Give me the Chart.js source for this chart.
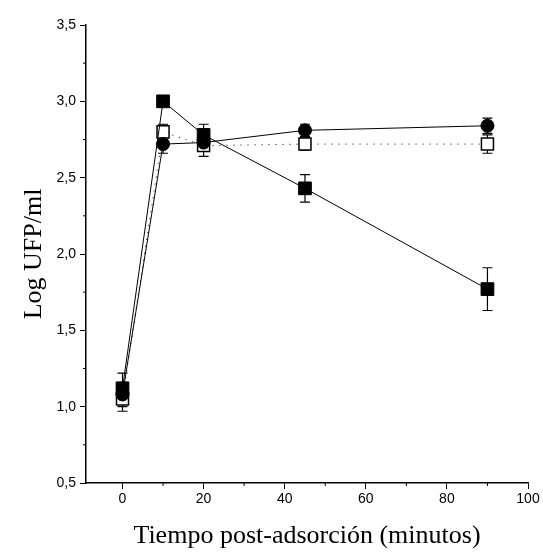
<!DOCTYPE html>
<html>
<head>
<meta charset="utf-8">
<script src="https://cdn.jsdelivr.net/npm/chart.js@4"></script>
<style>
  html, body { margin: 0; padding: 0; background: #fff; }
  #wrap { width: 543px; height: 552px; }
</style>
</head>
<body>
<div id="wrap"><canvas id="chart" width="543" height="552"></canvas></div>
<script>
// time after adsorption (minutes)
const tiempo = [0, 10, 20, 45, 90];

// filled squares, solid line
const cuadradoLleno = [1.12, 3.0, 2.78, 2.43, 1.77];
const errCuadradoLleno = [0.1, 0.03, 0.07, 0.09, 0.14];

// filled circles, solid line
const circulo = [1.08, 2.72, 2.73, 2.81, 2.84];
const errCirculo = [0.08, 0.06, 0.05, 0.04, 0.05];

// open squares, dotted line
const cuadradoAbierto = [1.05, 2.8, 2.71, 2.72, 2.72];
const errCuadradoAbierto = [0.08, 0.05, 0.07, 0.04, 0.06];

const xTicks = [0, 20, 40, 60, 80, 100];
const xMinor = [10, 30, 50, 70, 90];
const yTicks = [0.5, 1.0, 1.5, 2.0, 2.5, 3.0, 3.5];
const yMinor = [0.75, 1.25, 1.75, 2.25, 2.75, 3.25];

function pts(ys) {
  return tiempo.map((t, i) => ({ x: t, y: ys[i] }));
}

// error bars + minor ticks
const extras = {
  id: 'extras',
  beforeDatasetsDraw(chart) {
    const ctx = chart.ctx;
    const xs = chart.scales.x, ys = chart.scales.y;
    ctx.save();
    ctx.strokeStyle = '#000';
    ctx.lineWidth = 1.2;
    chart.data.datasets.forEach(ds => {
      if (!ds.errors) return;
      ds.data.forEach((p, i) => {
        const e = ds.errors[i];
        const px = xs.getPixelForValue(p.x);
        const top = ys.getPixelForValue(p.y + e);
        const bot = ys.getPixelForValue(p.y - e);
        ctx.beginPath();
        ctx.moveTo(px, top); ctx.lineTo(px, bot);
        ctx.moveTo(px - 5, top); ctx.lineTo(px + 5, top);
        ctx.moveTo(px - 5, bot); ctx.lineTo(px + 5, bot);
        ctx.stroke();
      });
    });
    ctx.restore();
  },
  afterDraw(chart) {
    const ctx = chart.ctx;
    const xs = chart.scales.x, ys = chart.scales.y;
    const area = chart.chartArea;
    ctx.save();
    ctx.strokeStyle = '#000';
    ctx.lineWidth = 1;
    ctx.beginPath();
    xMinor.forEach(v => {
      const px = xs.getPixelForValue(v);
      ctx.moveTo(px, area.bottom); ctx.lineTo(px, area.bottom + 3);
    });
    yMinor.forEach(v => {
      const py = ys.getPixelForValue(v);
      ctx.moveTo(area.left, py); ctx.lineTo(area.left - 3, py);
    });
    ctx.stroke();
    ctx.restore();
  }
};

const fmt = v => Number(v).toFixed(1).replace('.', ',');

new Chart(document.getElementById('chart'), {
  type: 'line',
  data: {
    datasets: [
      {
        label: 'cuadrado lleno',
        data: pts(cuadradoLleno),
        errors: errCuadradoLleno,
        borderColor: '#000',
        borderWidth: 1,
        pointStyle: 'rect',
        pointRadius: 9,
        pointBackgroundColor: '#000',
        pointBorderColor: '#000',
        pointBorderWidth: 1
      },
      {
        label: 'círculo',
        data: pts(circulo),
        errors: errCirculo,
        borderColor: '#000',
        borderWidth: 1,
        pointStyle: 'circle',
        pointRadius: 6.5,
        pointBackgroundColor: '#000',
        pointBorderColor: '#000',
        pointBorderWidth: 1
      },
      {
        label: 'cuadrado abierto',
        data: pts(cuadradoAbierto),
        errors: errCuadradoAbierto,
        borderColor: '#000',
        borderWidth: 1,
        borderDash: [1, 6],
        pointStyle: 'rect',
        pointRadius: 8.5,
        pointBackgroundColor: '#fff',
        pointBorderColor: '#000',
        pointBorderWidth: 1.5
      }
    ]
  },
  options: {
    responsive: false,
    animation: false,
    layout: { padding: { top: 25, right: 15, left: 0, bottom: 0 } },
    plugins: { legend: { display: false }, tooltip: { enabled: false } },
    scales: {
      x: {
        type: 'linear',
        min: -9,
        max: 100,
        afterBuildTicks: s => { s.ticks = xTicks.map(v => ({ value: v })); },
        afterFit: s => { s.height = 69; },
        border: { color: '#000', width: 1.5 },
        grid: { drawOnChartArea: false, tickLength: 6, color: '#000' },
        ticks: {
          color: '#000',
          font: { family: 'Liberation Sans', size: 14 },
          padding: 2
        },
        title: {
          display: true,
          text: 'Tiempo post-adsorción (minutos)',
          color: '#000',
          font: { family: 'Liberation Serif', size: 26 },
          padding: { top: 0, bottom: 0 }
        }
      },
      y: {
        min: 0.5,
        max: 3.5,
        afterBuildTicks: s => { s.ticks = yTicks.map(v => ({ value: v })); },
        afterFit: s => { s.width = 86; },
        border: { color: '#000', width: 1.5 },
        grid: { drawOnChartArea: false, tickLength: 6, color: '#000' },
        ticks: {
          color: '#000',
          font: { family: 'Liberation Sans', size: 14 },
          padding: 4,
          callback: v => fmt(v)
        },
        title: {
          display: true,
          text: 'Log UFP/ml',
          color: '#000',
          font: { family: 'Liberation Serif', size: 26 },
          padding: { top: 19, bottom: 0 }
        }
      }
    }
  },
  plugins: [extras]
});
</script>
</body>
</html>
